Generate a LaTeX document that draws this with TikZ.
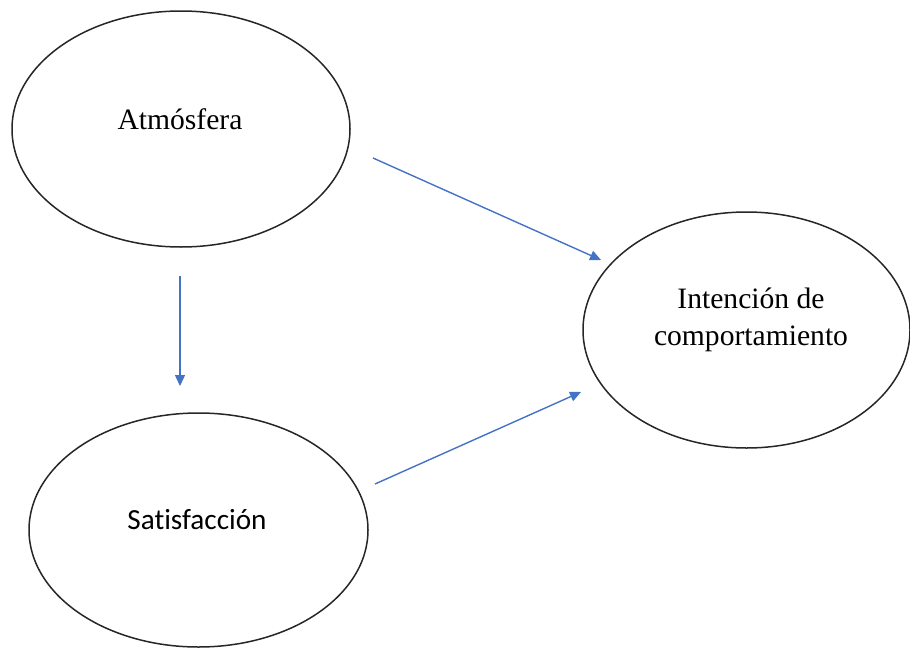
\documentclass[tikz,border=0pt]{standalone}
\usepackage{fontspec}
\setmainfont{Liberation Serif}
\newfontfamily\calib[Ligatures=NoCommon]{Carlito}
\usetikzlibrary{shapes.geometric,arrows.meta}
\definecolor{arrowblue}{HTML}{4472C4}
\begin{document}
\begin{tikzpicture}[x=0.5pt,y=-0.5pt,
  oval/.style={draw=black!85,line width=0.75pt,ellipse,inner sep=0pt},
  lbl/.style={font=\fontsize{14.8pt}{18.5pt}\selectfont,align=center,inner sep=0pt},
  link/.style={draw=arrowblue,line width=0.7pt,-{Triangle[length=5.5pt,width=5pt]}}]
\useasboundingbox (0,0) rectangle (910,648);
\node[oval,minimum width=338pt*0.5,minimum height=236pt*0.5] (atm) at (181,129) {};
\node[oval,minimum width=327pt*0.5,minimum height=236pt*0.5] (int) at (746.5,330) {};
\node[oval,minimum width=339pt*0.5,minimum height=234pt*0.5] (sat) at (198.5,530) {};
\node[lbl] (tatm) at (180,119) {Atmósfera};
\node[lbl] (tint) at (751,320) {Intención de\\comportamiento};
\node[lbl,font=\calib\fontsize{14.6pt}{18pt}\selectfont] (tsat) at (197,520) {Satisfacción};
\coordinate (a1s) at (373,158);
\coordinate (a1e) at (601,260);
\coordinate (a2s) at (180,276);
\coordinate (a2e) at (180,386);
\coordinate (a3s) at (375,484);
\coordinate (a3e) at (581,392);
\draw[link] (a1s) -- (a1e);
\draw[link] (a2s) -- (a2e);
\draw[link] (a3s) -- (a3e);
\end{tikzpicture}
\end{document}
